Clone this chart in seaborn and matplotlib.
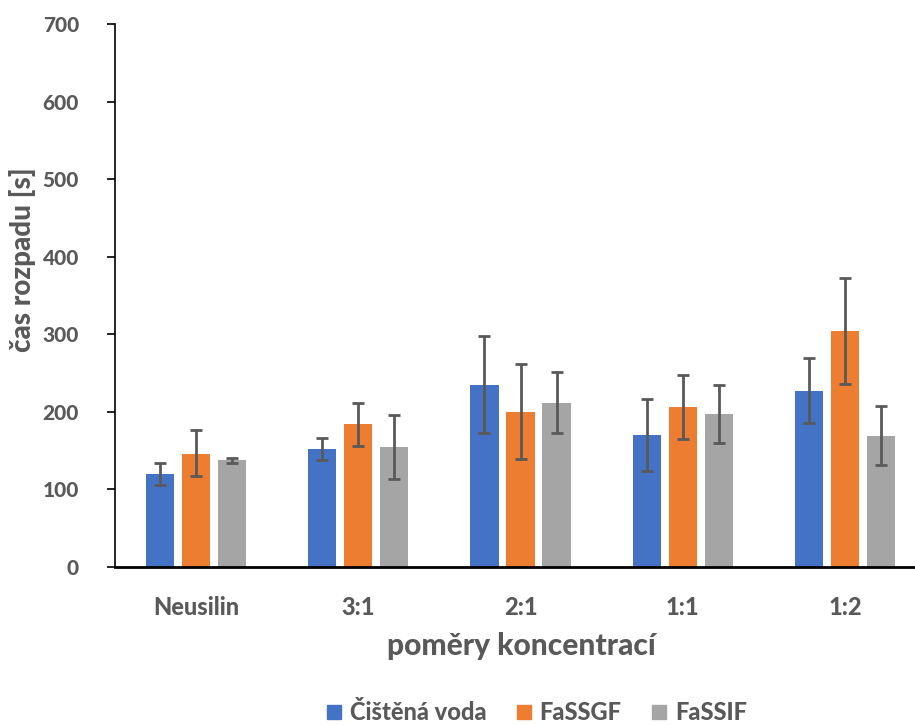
import numpy as np
import pandas as pd
import matplotlib
matplotlib.use("Agg")
import matplotlib.pyplot as plt
import seaborn as sns
from matplotlib.lines import Line2D
from matplotlib.container import BarContainer

categories = ["Neusilin", "3:1", "2:1", "1:1", "1:2"]
series = ["Čištěná voda", "FaSSGF", "FaSSIF"]
voda = [120, 152, 235, 170, 227]
fassgf = [146, 184, 200, 206, 304]
fassif = [138, 155, 211, 197, 169]
voda_lo = [106, 138, 173, 124, 186]
voda_hi = [134, 166, 298, 217, 269]
fassgf_lo = [117, 156, 139, 165, 236]
fassgf_hi = [176, 212, 262, 248, 372]
fassif_lo = [134, 113, 173, 160, 131]
fassif_hi = [141, 196, 251, 234, 208]
yticks = [0, 100, 200, 300, 400, 500, 600, 700]

colors = ["#4472C4", "#ED7D31", "#A5A5A5"]
text_col = "#595959"

sns.set_theme(style="white")
plt.rcParams["font.family"] = ["Lato", "DejaVu Sans"]
W = "black"

vals = [voda, fassgf, fassif]
los = [voda_lo, fassgf_lo, fassif_lo]
his = [voda_hi, fassgf_hi, fassif_hi]
rows = []
for s, v in zip(series, vals):
    for c, x in zip(categories, v):
        rows.append({"kat": c, "serie": s, "hodnota": x})
df = pd.DataFrame(rows)

fig = plt.figure(figsize=(9.15, 7.25), dpi=100)
ax = fig.add_axes([115/915, 1-567/725, 811/915, 543/725])

sns.barplot(data=df, x="kat", y="hodnota", hue="serie", order=categories,
            hue_order=series, palette=colors, width=0.666, ax=ax,
            errorbar=None, legend=False, saturation=1)

n = len(categories)
bar_conts = [c for c in ax.containers if isinstance(c, BarContainer)]
for si, cont in enumerate(bar_conts):
    for ci, p in enumerate(cont.patches):
        w = p.get_width()
        cx = p.get_x() + w / 2
        nw = w * 0.78
        p.set_x(cx - nw / 2)
        p.set_width(nw)
        p.set_edgecolor("none")
        v = vals[si][ci]
        ax.errorbar(cx, v, yerr=[[v - los[si][ci]], [his[si][ci] - v]],
                    fmt="none", ecolor=text_col, elinewidth=2,
                    capsize=4.3, capthick=2, zorder=5)

ax.set_xlim(-0.5, n - 0.5)
ax.set_ylim(0, 700)
ax.set_yticks(yticks)
ax.set_yticklabels([str(t) for t in yticks], fontsize=15, fontweight=W,
                   color=text_col)
ax.set_xticks(range(n))
ax.set_xticklabels(categories, fontsize=17, fontweight=W, color=text_col)
ax.tick_params(axis="y", direction="out", length=6, width=1.2, color="#000000",
               pad=20, left=True)
ax.tick_params(axis="x", length=0, pad=21)

for sp in ["top", "right"]:
    ax.spines[sp].set_visible(False)
ax.spines["left"].set_color("#000000")
ax.spines["left"].set_linewidth(1.2)
ax.spines["bottom"].set_color("#000000")
ax.spines["bottom"].set_linewidth(2)

ax.set_xlabel("poměry koncentrací", fontsize=21.5, fontweight=W,
              color=text_col)
ax.xaxis.set_label_coords((521.5 - 115) / 811, -(646 - 567) / 543)
ax.xaxis.label.set_va("center")
ax.set_ylabel("čas rozpadu [s]", fontsize=20, fontweight=W,
              color=text_col)
ax.yaxis.set_label_coords(-(115 - 23) / 811, (567 - 260) / 543)
ax.yaxis.label.set_va("center")

handles = [Line2D([0], [0], marker="s", linestyle="none", markersize=10.5,
                  markerfacecolor=c, markeredgecolor=c) for c in colors]
leg = fig.legend(handles, series, loc="center", bbox_to_anchor=(536/915, 1-713/725),
                 ncol=3, frameon=False, handlelength=0.75, handletextpad=0.3,
                 columnspacing=1.2, prop={"weight": W, "size": 17})
for t in leg.get_texts():
    t.set_color(text_col)

fig.savefig("out.png", dpi=100)
